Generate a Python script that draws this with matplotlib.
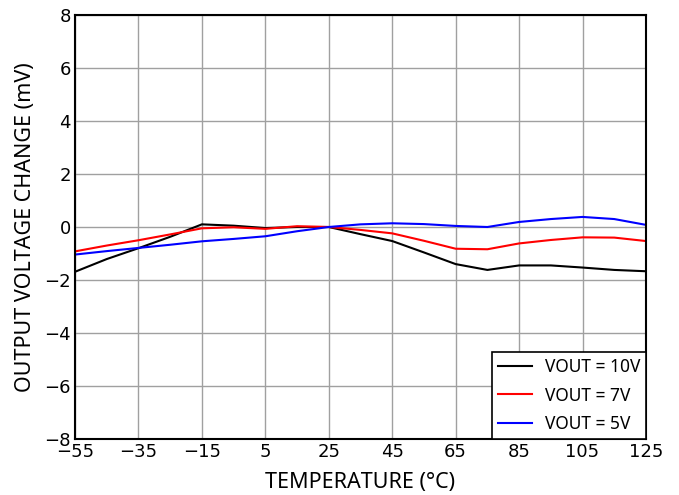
import matplotlib
matplotlib.use("Agg")
import matplotlib.pyplot as plt

temps = [-55, -45, -35, -25, -15, -5, 5, 15, 25, 35, 45, 55, 65, 75, 85, 95, 105, 115, 125]
vout_10v = [-1.69, -1.21, -0.80, -0.37, 0.10, 0.05, -0.04, 0.00, 0.00, -0.27, -0.53, -0.96, -1.40, -1.62, -1.45, -1.45, -1.53, -1.62, -1.67]
vout_7v = [-0.92, -0.70, -0.50, -0.28, -0.05, -0.01, -0.07, 0.03, 0.00, -0.11, -0.24, -0.52, -0.82, -0.84, -0.62, -0.49, -0.39, -0.40, -0.53]
vout_5v = [-1.04, -0.91, -0.79, -0.67, -0.54, -0.45, -0.35, -0.16, 0.00, 0.10, 0.14, 0.11, 0.04, 0.00, 0.19, 0.30, 0.38, 0.30, 0.08]
x_ticks = [-55, -35, -15, 5, 25, 45, 65, 85, 105, 125]
y_ticks = [-8, -6, -4, -2, 0, 2, 4, 6, 8]

fig = plt.figure(figsize=(6.79, 4.95), dpi=100)
ax = fig.add_axes([75/679, 1-439/495, (646-75)/679, (439-15)/495])

ax.plot(temps, vout_10v, color="black", lw=1.5, label="VOUT = 10V")
ax.plot(temps, vout_7v, color="red", lw=1.5, label="VOUT = 7V")
ax.plot(temps, vout_5v, color="blue", lw=1.5, label="VOUT = 5V")

ax.set_xlim(-55, 125)
ax.set_ylim(-8, 8)
ax.set_xticks(x_ticks)
ax.set_yticks(y_ticks)
ax.tick_params(length=0, labelsize=13, pad=3)
ax.grid(True, color="#a0a0a0", lw=1.0)
ax.set_axisbelow(True)
for s in ax.spines.values():
    s.set_linewidth(1.5)
lab_font = ["Noto Sans", "DejaVu Sans"]
ax.set_xlabel("TEMPERATURE (\u00b0C)", fontsize=15.5, family=lab_font, labelpad=8)
ax.set_ylabel("OUTPUT VOLTAGE CHANGE (mV)", fontsize=15.5, family=lab_font, labelpad=6)

leg = ax.legend(loc="lower right", prop={"family": lab_font, "size": 12.5}, fancybox=False,
                framealpha=1, edgecolor="black", borderaxespad=0.0, handlelength=2.0,
                handletextpad=0.7, labelspacing=0.6, borderpad=0.35)
leg.get_frame().set_linewidth(1.2)

fig.savefig("out.png", dpi=100)
